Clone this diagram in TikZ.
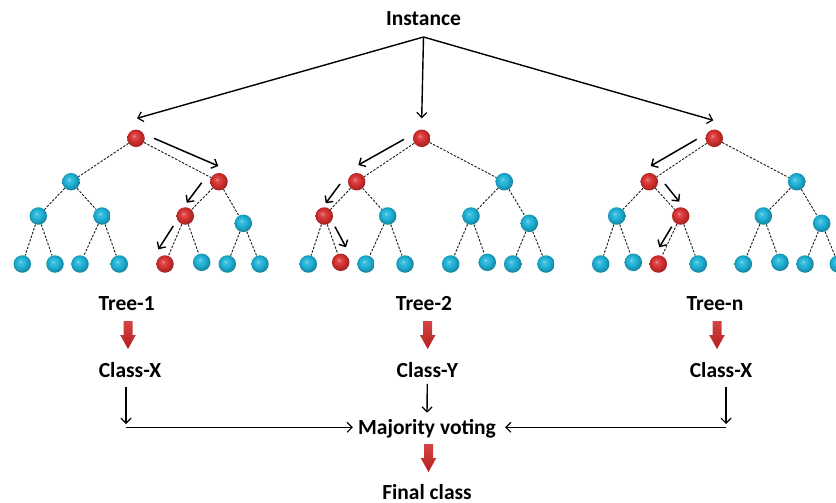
\documentclass[tikz,border=0pt]{standalone}
\usepackage{fontspec}
\setmainfont{Carlito}
\usetikzlibrary{arrows.meta,calc}
\definecolor{ballblue}{RGB}{30,178,215}
\definecolor{ballred}{RGB}{215,48,48}
\definecolor{blockred}{RGB}{205,35,35}
% glossy sphere shadings
\pgfdeclareradialshading{blueball}{\pgfpoint{-6bp}{7bp}}{%
  color(0bp)=(ballblue!50!white); color(5bp)=(ballblue!85!white);
  color(14bp)=(ballblue); color(24bp)=(ballblue!80!black);
  color(30bp)=(ballblue!65!black); color(50bp)=(ballblue!65!black)}
\pgfdeclareradialshading{redball}{\pgfpoint{-6bp}{7bp}}{%
  color(0bp)=(ballred!50!white); color(5bp)=(ballred!85!white);
  color(14bp)=(ballred); color(24bp)=(ballred!80!black);
  color(30bp)=(ballred!65!black); color(50bp)=(ballred!65!black)}
\tikzset{
  bnode/.style={circle, minimum size=17.5pt, inner sep=0pt, shading=blueball},
  rnode/.style={circle, minimum size=17.5pt, inner sep=0pt, shading=redball},
  edge/.style={draw=black!90, line width=0.9pt, dash pattern=on 2.4pt off 1.5pt},
  walk/.style={draw=black, line width=1.5pt, -{Straight Barb[length=5pt,width=10pt,line width=1.4pt]}},
  link/.style={draw=black, line width=1.4pt, -{Straight Barb[length=5pt,width=10pt,line width=1.2pt]}},
  lbl/.style={font=\bfseries\fontsize{21.5}{24}\selectfont, inner sep=0pt},
  blockarrow/.style={top color=blockred!85!white, bottom color=blockred!88!black, draw=none},
}
% red block arrow pointing down, centred on (#1)
\newcommand{\blockdown}[1]{%
  \path[blockarrow] ($(#1)+(-4.5,-14)$) -- ($(#1)+(4.5,-14)$) -- ($(#1)+(4.5,0)$)
    -- ($(#1)+(7.8,0)$) -- ($(#1)+(0,14)$) -- ($(#1)+(-7.8,0)$) -- ($(#1)+(-4.5,0)$) -- cycle;}
\begin{document}
\begin{tikzpicture}[x=1pt,y=-1pt]
\useasboundingbox (0,0) rectangle (836,503);

% ---------- labels ----------
\node[lbl] (inst) at (423.5,19) {Instance};
\coordinate (apex) at (423.5,37);

% ---------- tree 1 ----------
\node[rnode] (t1r)   at (136,138.3) {};
\node[bnode] (t1a)   at (71,181.7) {};
\node[rnode] (t1b)   at (219,181.7) {};
\node[bnode] (t1aa)  at (38.3,216) {};
\node[bnode] (t1ab)  at (102,216) {};
\node[rnode] (t1ba)  at (185.3,216) {};
\node[bnode] (t1bb)  at (243.3,223.3) {};
\node[bnode] (t1aaa) at (22.3,264) {};
\node[bnode] (t1aab) at (55,264) {};
\node[bnode] (t1aba) at (80,264) {};
\node[bnode] (t1abb) at (119.3,264) {};
\node[rnode] (t1baa) at (165,264) {};
\node[bnode] (t1bab) at (201.7,262.3) {};
\node[bnode] (t1bba) at (227.3,264) {};
\node[bnode] (t1bbb) at (260,264) {};

% ---------- tree 2 ----------
\node[rnode] (t2r)   at (421.7,138.3) {};
\node[rnode] (t2a)   at (356.7,181.7) {};
\node[bnode] (t2b)   at (504.3,181.7) {};
\node[rnode] (t2aa)  at (324.3,216) {};
\node[bnode] (t2ab)  at (387.7,216) {};
\node[bnode] (t2ba)  at (471,216) {};
\node[bnode] (t2bb)  at (529.3,223.3) {};
\node[bnode] (t2aaa) at (308.3,264) {};
\node[rnode] (t2aab) at (340.7,262.3) {};
\node[bnode] (t2aba) at (366,264) {};
\node[bnode] (t2abb) at (405,264) {};
\node[bnode] (t2baa) at (450.7,264) {};
\node[bnode] (t2bab) at (487.3,262.3) {};
\node[bnode] (t2bba) at (512.7,264) {};
\node[bnode] (t2bbb) at (546,264) {};

% ---------- tree n ----------
\node[rnode] (t3r)   at (714.3,138.3) {};
\node[rnode] (t3a)   at (649.3,181.7) {};
\node[bnode] (t3b)   at (796.7,181.7) {};
\node[bnode] (t3aa)  at (616.7,216) {};
\node[rnode] (t3ab)  at (680.7,216) {};
\node[bnode] (t3ba)  at (763.3,216) {};
\node[bnode] (t3bb)  at (821.7,223.3) {};
\node[bnode] (t3aaa) at (600.7,264) {};
\node[bnode] (t3aab) at (633.3,262.3) {};
\node[rnode] (t3aba) at (658.3,264) {};
\node[bnode] (t3abb) at (698.3,264) {};
\node[bnode] (t3baa) at (743.3,264) {};
\node[bnode] (t3bab) at (780,262.3) {};
\node[bnode] (t3bba) at (805,264) {};
\node[bnode] (t3bbb) at (838.3,264) {};

% dashed tree edges
\foreach \t in {t1,t2,t3}{
  \draw[edge] (\t r) -- (\t a);
  \draw[edge] (\t r) -- (\t b);
  \foreach \p in {a,b}{
    \draw[edge] (\t\p) -- (\t\p a);
    \draw[edge] (\t\p) -- (\t\p b);
    \foreach \q in {a,b}{
      \draw[edge] (\t\p\q) -- (\t\p\q a);
      \draw[edge] (\t\p\q) -- (\t\p\q b);
    }
  }
}

% instance to the tree roots
\draw[link] (apex) -- ([shift={(1,-20)}]t1r.center);
\draw[link] (apex) -- ([shift={(0,-20)}]t2r.center);
\draw[link] (apex) -- ([shift={(-1,-18)}]t3r.center);

% decision paths
\draw[walk] ([shift={(18,0)}]t1r.center)   -- ([shift={(-0.7,-15.7)}]t1b.center);
\draw[walk] ([shift={(-17.3,1)}]t1b.center) -- ([shift={(1.4,-13.3)}]t1ba.center);
\draw[walk] ([shift={(-12,10)}]t1ba.center) -- ([shift={(-6.7,-14.7)}]t1baa.center);

\draw[walk] ([shift={(-17.7,1)}]t2r.center) -- ([shift={(1.6,-16.7)}]t2a.center);
\draw[walk] ([shift={(-16.7,2.3)}]t2a.center) -- ([shift={(1.4,-12.7)}]t2aa.center);
\draw[walk] ([shift={(10.7,10.7)}]t2aa.center) -- ([shift={(5.3,-15)}]t2aab.center);

\draw[walk] ([shift={(-17.6,1)}]t3r.center) -- ([shift={(1.4,-15.7)}]t3a.center);
\draw[walk] ([shift={(15.7,2.3)}]t3a.center) -- ([shift={(-1.4,-14.3)}]t3ab.center);
\draw[walk] ([shift={(-9,10.7)}]t3ab.center) -- ([shift={(1,-16.7)}]t3aba.center);

% ---------- voting ----------
\node[lbl] (tr1) at (126.7,303.3) {Tree-1};
\node[lbl] (tr2) at (424,303.3) {Tree-2};
\node[lbl] (tr3) at (715,303.3) {Tree-n};
\node[lbl] (c1) at (130,370) {Class-X};
\node[lbl] (c2) at (427.3,370) {Class-Y};
\node[lbl] (c3) at (721,370) {Class-X};
\node[lbl] (vote) at (427,428.3) {Majority voting};
\node[lbl] (final) at (427,491.7) {Final class};

\coordinate (b1) at (128,335);
\coordinate (b2) at (427.7,335);
\coordinate (b3) at (717,335);
\coordinate (b4) at (428.5,458);
\blockdown{b1}
\blockdown{b2}
\blockdown{b3}
\blockdown{b4}

\coordinate (d1top) at (126,386.7);
\coordinate (d1bot) at (126,424);
\coordinate (h1) at (126,427.3);
\coordinate (d3top) at (726,386.7);
\coordinate (d3bot) at (726,424);
\coordinate (h3) at (726,427.3);

\draw[link] (d1top) -- (d1bot);
\draw[link] (d3top) -- (d3bot);
\draw[link] (h1) -- ([xshift=-5pt]vote.west |- h1);
\draw[link] (h3) -- ([xshift=9pt]vote.east |- h3);
\draw[link] ([yshift=-6pt]c2.south) -- ([yshift=6pt]vote.north);
\end{tikzpicture}
\end{document}
